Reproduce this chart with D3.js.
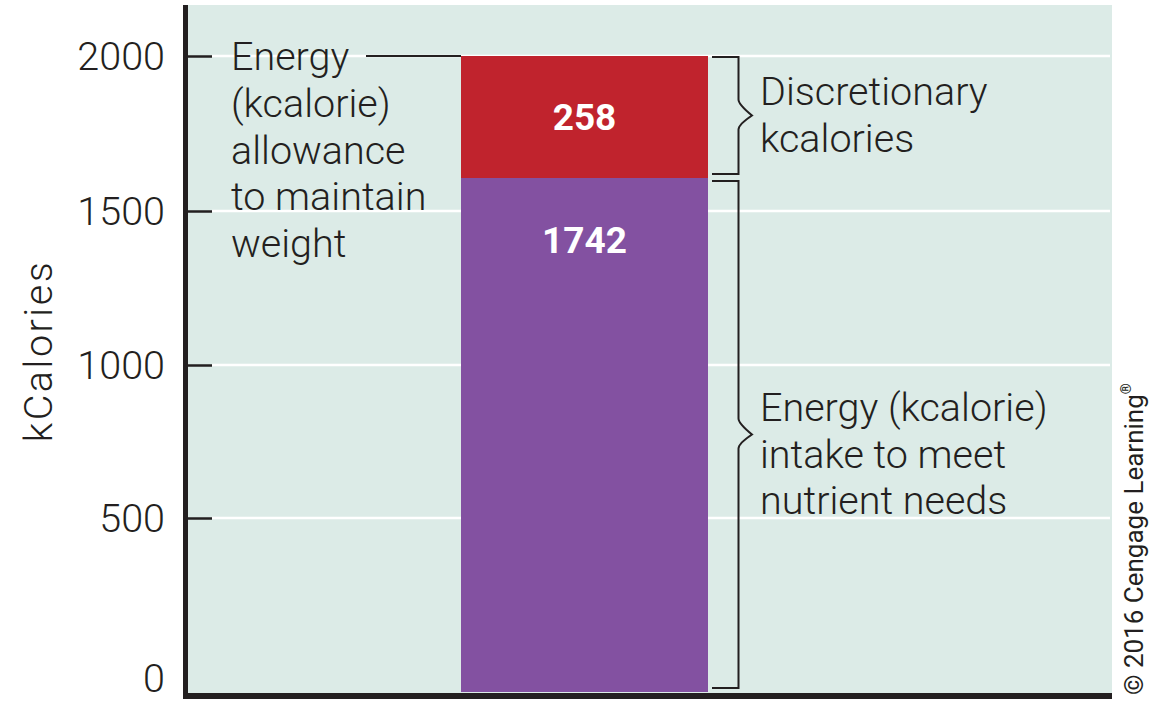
<!DOCTYPE html>
<html><head><meta charset="utf-8">
<script src="https://cdn.jsdelivr.net/npm/d3@7"></script>
<style>
body{margin:0;background:#fff}
text{font-family:Roboto,"Liberation Sans",sans-serif}
</style>
</head><body>
<svg id="c" width="1166" height="701"></svg>
<script>
// ---- data ----
const categories = ["Energy allowance"];
const segmentKeys = ["needs", "discretionary"];
const segmentValues = [1742, 258];
const segmentLabels = ["1742", "258"];
const segmentColors = ["#8351a1", "#c0232d"];
const tickValues = [0, 500, 1000, 1500, 2000];
const tickLabels = ["0", "500", "1000", "1500", "2000"];
const allowanceLines = ["Energy", "(kcalorie)", "allowance", "to maintain", "weight"];
const discretionaryLines = ["Discretionary", "kcalories"];
const needsLines = ["Energy (kcalorie)", "intake to meet", "nutrient needs"];
const yTitle = "kCalories";
const copyright = "\u00A9 2016 Cengage Learning";

// ---- layout ----
const ink = "#231f20";
const fs = 39.5;
const svg = d3.select("#c");
const panel = {x0: 188, x1: 1112, y0: 5, y1: 693};

// The printed figure is not drawn to scale; a piecewise scale reproduces it.
const y = d3.scaleLinear()
  .domain([0, 500, 1000, 1500, 1742, 2000])
  .range([692, 518, 365, 211, 178, 56]);
const x = d3.scaleBand().domain(categories).range([461, 708]).padding(0);

// background
svg.append("rect").attr("x", panel.x0).attr("y", panel.y0)
  .attr("width", panel.x1 - panel.x0).attr("height", panel.y1 - panel.y0)
  .attr("fill", "#dcebe7");

// gridlines
svg.append("g").selectAll("line").data(tickValues.filter(d => d > 0)).join("line")
  .attr("x1", 212).attr("x2", panel.x1 - 2)
  .attr("y1", d => y(d)).attr("y2", d => y(d))
  .attr("stroke", "#fff").attr("stroke-width", 2.5);

// stacked bar
const row = {cat: categories[0]};
segmentKeys.forEach((k, i) => row[k] = segmentValues[i]);
const stacked = d3.stack().keys(segmentKeys)([row]);
svg.append("g").selectAll("rect").data(stacked).join("rect")
  .attr("x", x(categories[0])).attr("width", x.bandwidth())
  .attr("y", d => y(d[0][1])).attr("height", d => y(d[0][0]) - y(d[0][1]))
  .attr("fill", (d, i) => segmentColors[i]);

// bar value labels
const labelY = [y(1742) + 62, (y(2000) + y(1742)) / 2];
svg.append("g").selectAll("text").data(stacked).join("text")
  .attr("x", x(categories[0]) + x.bandwidth() / 2)
  .attr("y", (d, i) => labelY[i])
  .attr("dy", "0.36em")
  .attr("text-anchor", "middle")
  .attr("fill", "#fff").attr("font-weight", 700).attr("font-size", 37)
  .text((d, i) => segmentLabels[i]);

// y axis with ticks inward
const axis = d3.axisLeft(y).tickValues(tickValues)
  .tickFormat((d, i) => tickLabels[i]).tickSize(-26).tickSizeOuter(0).tickPadding(21);
const ag = svg.append("g").attr("transform", "translate(186,0)").call(axis);
ag.select(".domain").remove();
ag.selectAll(".tick line").attr("stroke", ink).attr("stroke-width", 2.5)
  .attr("display", d => d === 0 ? "none" : null);
ag.selectAll(".tick text").attr("font-size", fs).attr("font-weight", 300)
  .attr("fill", ink).attr("font-family", "Roboto, 'Liberation Sans', sans-serif")
  .attr("dy", d => d === 0 ? "-0.02em" : "0.35em");

// axis lines
svg.append("line").attr("x1", 185.5).attr("x2", 185.5).attr("y1", 5).attr("y2", 699)
  .attr("stroke", ink).attr("stroke-width", 5);
svg.append("line").attr("x1", 183).attr("x2", panel.x1).attr("y1", 696).attr("y2", 696)
  .attr("stroke", ink).attr("stroke-width", 6);

// y title
svg.append("text").attr("transform", `translate(52,${351}) rotate(-90)`)
  .attr("text-anchor", "middle").attr("font-size", fs).attr("font-weight", 300)
  .attr("letter-spacing", 2.5).attr("fill", ink).text(yTitle);

// allowance annotation
const tA = svg.append("text").attr("x", 231).attr("y", y(2000) + 14)
  .attr("font-size", fs).attr("font-weight", 300).attr("fill", ink);
allowanceLines.forEach((l, i) => tA.append("tspan").attr("x", 231)
  .attr("dy", i === 0 ? 0 : 46.8).text(l));
svg.append("line").attr("x1", 366).attr("x2", x(categories[0]))
  .attr("y1", y(2000)).attr("y2", y(2000)).attr("stroke", ink).attr("stroke-width", 2);

// brackets
function bracket(yt, yb) {
  const mid = (yt + yb) / 2, bx = 738.5, x0 = 712, tip = 752;
  return `M${x0},${yt} H${bx} V${mid - 16} Q${bx},${mid - 11} ${tip},${mid} ` +
         `Q${bx},${mid + 9} ${bx},${mid + 14} V${yb} H${x0}`;
}
svg.append("path").attr("d", bracket(y(2000) + 1, y(1742) - 4))
  .attr("fill", "none").attr("stroke", ink).attr("stroke-width", 2);
svg.append("path").attr("d", bracket(y(1742) + 3, y(0) - 4))
  .attr("fill", "none").attr("stroke", ink).attr("stroke-width", 2);

const tD = svg.append("text").attr("x", 760).attr("y", 105)
  .attr("font-size", fs).attr("font-weight", 300).attr("fill", ink);
discretionaryLines.forEach((l, i) => tD.append("tspan").attr("x", 760)
  .attr("dy", i === 0 ? 0 : 46.5).text(l));
const tN = svg.append("text").attr("x", 760).attr("y", 421)
  .attr("font-size", fs).attr("font-weight", 300).attr("fill", ink);
needsLines.forEach((l, i) => tN.append("tspan").attr("x", 760)
  .attr("dy", i === 0 ? 0 : 46.5).text(l));

// copyright
const tc = svg.append("text").attr("transform", "translate(1143,695) rotate(-90)")
  .attr("font-size", 26).attr("fill", ink).text(copyright);
tc.append("tspan").attr("font-size", 14).attr("dy", -12).text("\u00AE");
</script>
</body></html>
